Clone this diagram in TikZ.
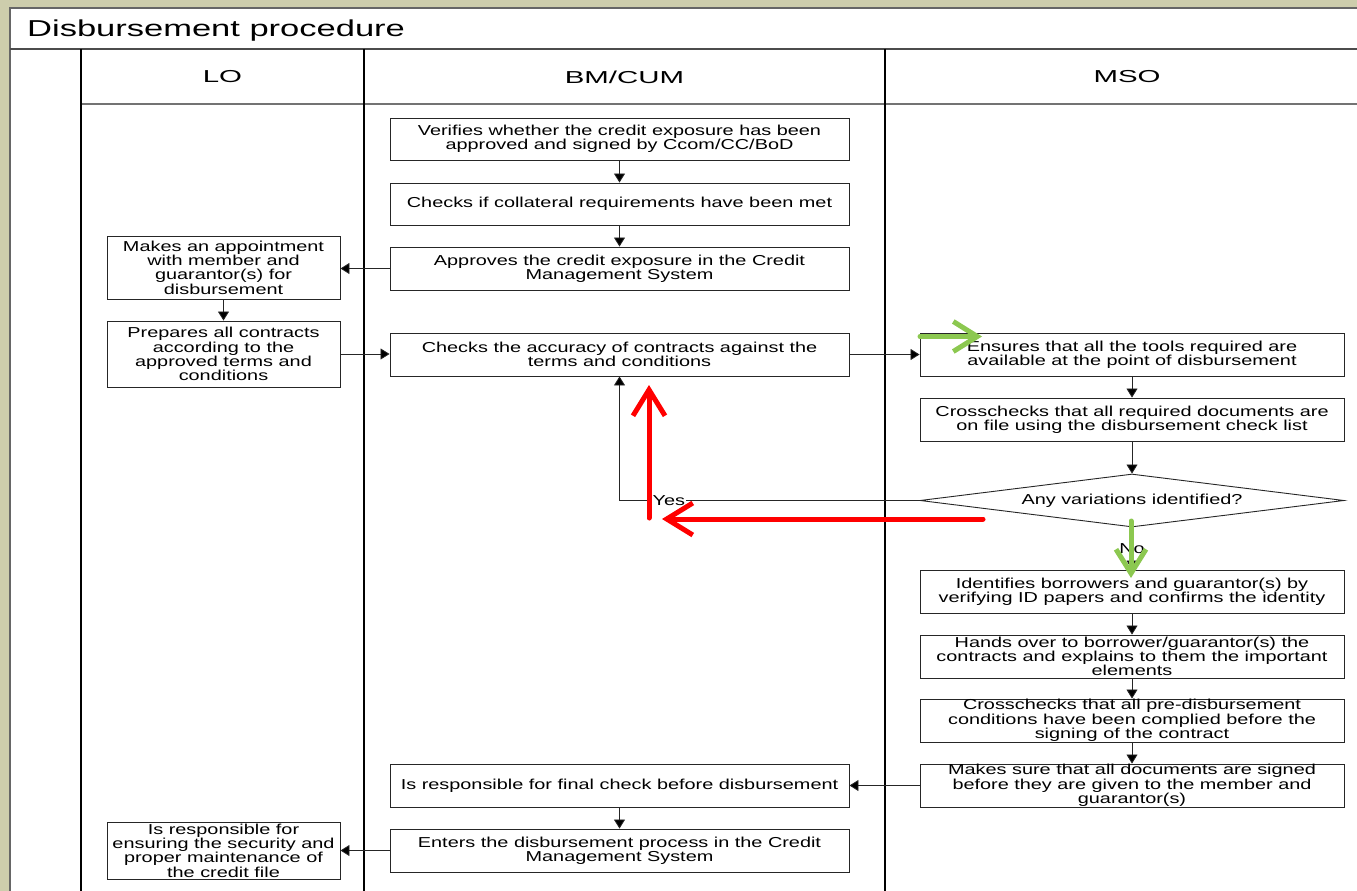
\documentclass[tikz,border=0pt]{standalone}
\usepackage{fontspec}
\setmainfont{Liberation Sans}[FakeStretch=1.38]
\newfontfamily\titlefont{Liberation Sans}[FakeStretch=1.5]
\newfontfamily\hdrfont{Liberation Sans}[FakeStretch=1.7]
\usetikzlibrary{arrows.meta,shapes.geometric}
\definecolor{bgbeige}{RGB}{205,205,172}
\definecolor{annogreen}{RGB}{140,200,80}
\definecolor{annored}{RGB}{255,0,0}
\begin{document}
\begin{tikzpicture}[x=1pt,y=-1pt,
  box/.style={draw=black!85, line width=0.9pt, fill=white, inner sep=0pt, align=center,
    font=\fontsize{14.4}{14.3}\selectfont},
  bmbox/.style={box, minimum width=459pt, minimum height=42pt},
  lobox/.style={box, minimum width=233pt},
  msobox/.style={box, minimum width=424pt, minimum height=43pt},
  decision/.style={box, shape=diamond, shape aspect=8, minimum width=424pt, minimum height=53pt},
  lbl/.style={inner sep=0.5pt, fill=white, font=\fontsize{14.4}{14.3}\selectfont},
  hdr/.style={inner sep=0pt, font=\hdrfont\fontsize{17.3}{18}\selectfont},
  conn/.style={draw=black!85, line width=0.8pt, -{Triangle[length=9pt,width=11pt,fill=black]}},
  lane/.style={draw=black, line width=1.4pt},
  annog/.style={draw=annogreen, line width=5pt, line cap=round, -{Straight Barb[length=24pt 0,width=30pt 0]}},
  annor/.style={draw=annored, line width=5pt, line cap=round, -{Straight Barb[length=26pt 0,width=32pt 0]}}
]
\useasboundingbox (0,0) rectangle (1357,891);
% page background and frame
\fill[bgbeige] (0,0) rectangle (1357,891);
\fill[white] (10,8) rectangle (1357,891);
\draw[black!60, line width=1.2pt] (10,891) -- (10,8) -- (1357,8);
% title
\node[inner sep=0pt, anchor=base west, font=\titlefont\fontsize{23}{25}\selectfont] (title) at (27,36.5) {Disbursement procedure};
% grid lines
\draw[black!70, line width=1.6pt] (10,49) -- (1357,49);
\draw[black!55, line width=1.2pt] (81,104) -- (1357,104);
\draw[lane] (81,49) -- (81,891);
\draw[lane] (364,49) -- (364,891);
\draw[lane] (885,49) -- (885,891);
% lane headers
\node[hdr] (hLO) at (222.5,77) {LO};
\node[hdr] (hBM) at (624.5,77) {BM/CUM};
\node[hdr] (hMSO) at (1127,77) {MSO};

% BM/CUM boxes
\node[bmbox] (B1) at (619.5,139) {Verifies whether the credit exposure has been\\approved and signed by Ccom/CC/BoD};
\node[bmbox] (B2) at (619.5,204) {Checks if collateral requirements have been met};
\node[bmbox, minimum height=43pt] (B3) at (619.5,268.5) {Approves the credit exposure in the Credit\\Management System};
\node[bmbox, minimum height=43pt] (B4) at (619.5,354.5) {Checks the accuracy of contracts against the\\terms and conditions};
\node[bmbox, minimum height=43pt] (B5) at (619.5,785.5) {Is responsible for final check before disbursement};
\node[bmbox, minimum height=43pt] (B6) at (619.5,850.5) {Enters the disbursement process in the Credit\\Management System};

% LO boxes
\node[lobox, minimum height=63pt] (L1) at (223.5,267.5) {Makes an appointment\\with member and\\guarantor(s) for\\disbursement};
\node[lobox, minimum height=66pt] (L2) at (223.5,354) {Prepares all contracts\\according to the\\approved terms and\\conditions};
\node[lobox, minimum height=57pt] (L3) at (223.5,850.5) {Is responsible for\\ensuring the security and\\proper maintenance of\\the credit file};

% MSO boxes
\node[msobox] (M1) at (1132,354.5) {Ensures that all the tools required are\\available at the point of disbursement};
\node[msobox] (M2) at (1132,419.5) {Crosschecks that all required documents are\\on file using the disbursement check list};
\node[decision] (D) at (1132,500.5) {Any variations identified?};
\node[msobox] (M3) at (1132,591.5) {Identifies borrowers and guarantor(s) by\\verifying ID papers and confirms the identity};
\node[msobox] (M4) at (1132,656.5) {Hands over to borrower/guarantor(s) the\\contracts and explains to them the important\\elements};
\node[msobox] (M5) at (1132,720.5) {Crosschecks that all pre-disbursement\\conditions have been complied before the\\signing of the contract};
\node[msobox] (M6) at (1132,785.5) {Makes sure that all documents are signed\\before they are given to the member and\\guarantor(s)};

% connectors
\draw[conn] (B1.south) -- (B2.north);
\draw[conn] (B2.south) -- (B3.north);
\draw[conn] (B3.west) -- (B3.west -| L1.east);
\draw[conn] (L1.south) -- (L2.north);
\draw[conn] (L2.east) -- (L2.east -| B4.west);
\draw[conn] (B4.east) -- (M1.west);
\draw[conn] (M1.south) -- (M2.north);
\draw[conn] (M2.south) -- (D.north);
\draw[conn] (D.west) -- (D.west -| B4.south) -- (B4.south);
\draw[conn] (D.south) -- (M3.north);
\draw[conn] (M3.south) -- (M4.north);
\draw[conn] (M4.south) -- (M5.north);
\draw[conn] (M5.south) -- (M6.north);
\draw[conn] (M6.west) -- (B5.east);
\draw[conn] (B5.south) -- (B6.north);
\draw[conn] (B6.west) -- (L3.east);

% labels
\node[lbl, anchor=west] (yes) at (652,500.5) {Yes};
\node[lbl] (no) at (1132,548.5) {No};

% annotation arrows
\coordinate (g1s) at (920,336.5);
\coordinate (g1e) at (982,336.5);
\coordinate (g2s) at (1131,521);
\coordinate (g2e) at (1131,578);
\coordinate (r1s) at (983,519);
\coordinate (r1e) at (662,519);
\coordinate (r2s) at (649,518);
\coordinate (r2e) at (649,385);
\draw[annog] (g1s) -- (g1e);
\draw[annog] (g2s) -- (g2e);
\draw[annor] (r1s) -- (r1e);
\draw[annor] (r2s) -- (r2e);
\end{tikzpicture}
\end{document}
